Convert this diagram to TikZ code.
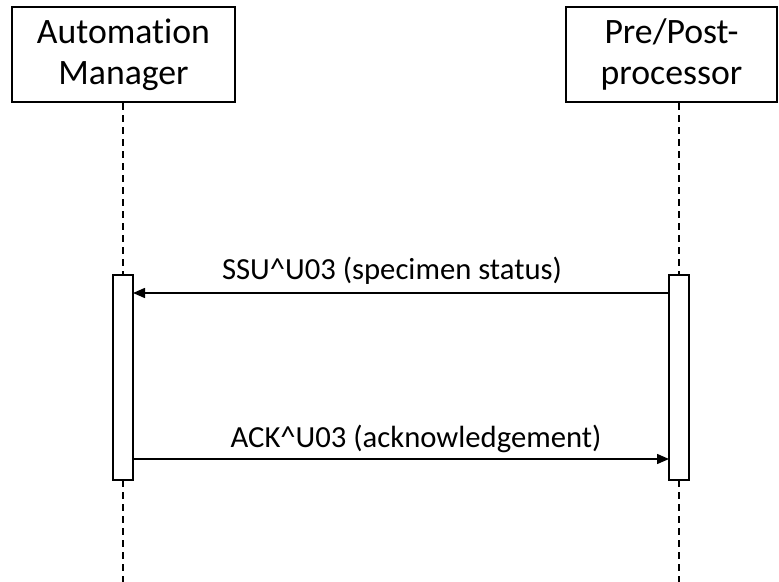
\documentclass[tikz,border=0pt]{standalone}
\usepackage{fontspec}
\setmainfont{Carlito}[Ligatures=NoCommon]
\usetikzlibrary{arrows.meta}
\begin{document}
\begin{tikzpicture}[x=0.75pt,y=-0.75pt,
  actor/.style={draw,line width=1.5pt,fill=white,inner sep=0pt,align=center,font=\fontsize{26.8pt}{30.5pt}\selectfont},
  life/.style={line width=1pt,dash pattern=on 5.5pt off 3.5pt},
  bar/.style={draw,line width=1.3pt,fill=white},
  msg/.style={line width=1.1pt,-{Triangle[length=9pt,width=7.5pt]}},
  lbl/.style={font=\fontsize{23pt}{27pt}\selectfont,inner sep=0pt}]
\useasboundingbox (0,0) rectangle (779,582);
% actors
\node[actor,minimum width=223*0.75pt,minimum height=95*0.75pt] (am) at (123.5,54.5) {Automation\\Manager};
\node[actor,minimum width=211*0.75pt,minimum height=95*0.75pt] (pp) at (671.5,54.5) {Pre/Post-\\processor};
% activation bars
\coordinate (lt) at (123,275);
\coordinate (lb) at (123,480);
\coordinate (rt) at (679,275);
\coordinate (rb) at (679,480);
\coordinate (lend) at (123,582);
\coordinate (rend) at (679,582);
\draw[life] (am.south -| lt) -- (lt);
\draw[life] (pp.south -| rt) -- (rt);
\draw[life] (lb) -- (lend);
\draw[life] (rb) -- (rend);
\node[bar,minimum width=20*0.75pt,minimum height=205*0.75pt,inner sep=0pt] (lbar) at (123,377.5) {};
\node[bar,minimum width=20*0.75pt,minimum height=205*0.75pt,inner sep=0pt] (rbar) at (679,377.5) {};
% messages
\coordinate (m1r) at (669,293);
\coordinate (m1l) at (133,293);
\coordinate (m2l) at (133,459);
\coordinate (m2r) at (669,459);
\draw[msg] (m1r) -- (m1l);
\draw[msg] (m2l) -- (m2r);
\node[lbl,anchor=base] (l1) at (392,279) {SSU\textasciicircum U03 (specimen status)};
\node[lbl,anchor=base] (l2) at (416,447) {ACK\textasciicircum U03 (acknowledgement)};
\end{tikzpicture}
\end{document}
